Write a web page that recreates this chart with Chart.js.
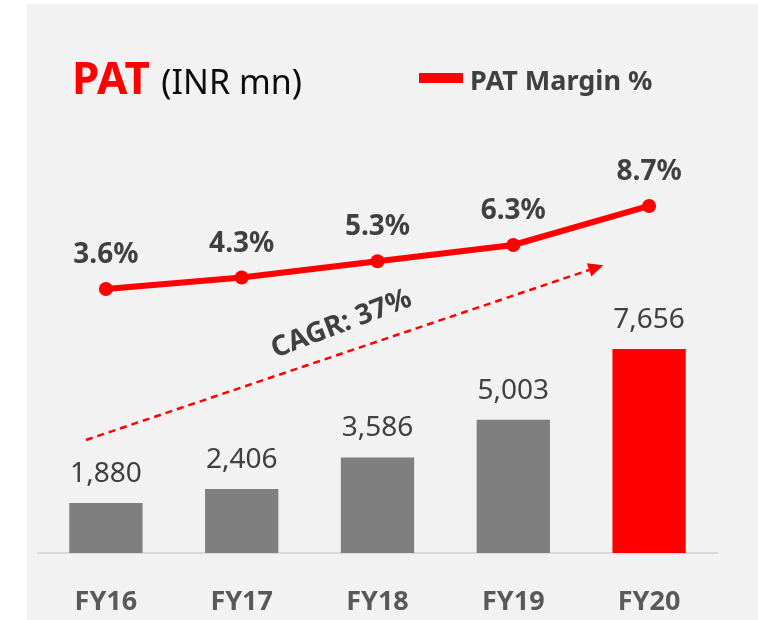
<!DOCTYPE html>
<html>
<head>
<meta charset="utf-8">
<title>PAT (INR mn)</title>
<script src="https://cdn.jsdelivr.net/npm/chart.js@4"></script>
<style>
  body { margin: 0; background: #fff; }
  #panel { position: absolute; left: 27px; top: 4px; width: 731px; height: 616px; background: #f2f2f2; }
  #patChart { position: absolute; left: 0; top: 0; }
  .title { position: absolute; left: 72px; top: 55px; font-family: "Noto Sans", sans-serif; font-size: 44px; line-height: 44px; white-space: nowrap; }
  .title b { color: #ff0000; }
  .title span { font-size: 34px; color: #0d0d0d; }
  .legend-key { position: absolute; left: 419px; top: 73px; width: 44px; height: 10px; background: #ff0000; }
  .legend-text { position: absolute; left: 470px; top: 66px; font-family: "Noto Sans", sans-serif; font-weight: bold; font-size: 27px; line-height: 27px; color: #404040; white-space: nowrap; }
</style>
</head>
<body>
<div id="panel"></div>
<canvas id="patChart" width="758" height="620"></canvas>
<div class="title"><b>PAT</b> <span>(INR mn)</span></div>
<div class="legend-key"></div>
<div class="legend-text">PAT Margin %</div>

<script>
'use strict';

/* ── Data ── */
const categories   = ['FY16', 'FY17', 'FY18', 'FY19', 'FY20'];
const patValues    = [1880, 2406, 3586, 5003, 7656];
const marginValues = [3.6, 4.3, 5.3, 6.3, 8.7];
const cagrLabel    = 'CAGR: 37%';

const RED  = '#FF0000';
const GREY = '#7F7F7F';
const TEXT = '#404040';
const FONT = '"Noto Sans", "Open Sans", sans-serif';

/* ── Value labels + CAGR arrow ── */
const labelPlugin = {
  id: 'patLabels',
  afterDatasetsDraw(chart) {
    const { ctx } = chart;
    const bars   = chart.getDatasetMeta(0).data;
    const points = chart.getDatasetMeta(1).data;

    ctx.save();
    ctx.fillStyle = TEXT;
    ctx.textAlign = 'center';
    ctx.textBaseline = 'alphabetic';

    ctx.font = `28px ${FONT}`;
    bars.forEach((bar, i) => {
      ctx.fillText(patValues[i].toLocaleString('en-US'), bar.x, bar.y - 21);
    });

    ctx.font = `bold 28px ${FONT}`;
    points.forEach((pt, i) => {
      ctx.fillText(marginValues[i].toFixed(1) + '%', pt.x, pt.y - 26);
    });

    // dashed growth arrow, anchored on the bar scales
    const xs = chart.scales.x, ys = chart.scales.y;
    const x0 = xs.getPixelForValue(-0.147), y0 = ys.getPixelForValue(4240);
    const x1 = xs.getPixelForValue(3.663),  y1 = ys.getPixelForValue(10800);
    const ang = Math.atan2(y1 - y0, x1 - x0);
    const head = 15;
    const bx = x1 - Math.cos(ang) * head, by = y1 - Math.sin(ang) * head;

    ctx.strokeStyle = RED;
    ctx.lineWidth = 2.5;
    ctx.setLineDash([7, 5]);
    ctx.beginPath();
    ctx.moveTo(x0, y0);
    ctx.lineTo(bx, by);
    ctx.stroke();
    ctx.setLineDash([]);

    ctx.fillStyle = RED;
    ctx.beginPath();
    ctx.moveTo(x1, y1);
    ctx.lineTo(bx + Math.sin(ang) * 7, by - Math.cos(ang) * 7);
    ctx.lineTo(bx - Math.sin(ang) * 7, by + Math.cos(ang) * 7);
    ctx.closePath();
    ctx.fill();

    // label sits above the middle of the arrow
    const mx = (x0 + x1) / 2 + Math.cos(ang) * 6 + Math.sin(ang) * 28;
    const my = (y0 + y1) / 2 + Math.sin(ang) * 6 - Math.cos(ang) * 28;
    ctx.translate(mx, my);
    ctx.rotate(ang - 0.04);
    ctx.fillStyle = TEXT;
    ctx.font = `bold 28px ${FONT}`;
    ctx.textBaseline = 'middle';
    ctx.fillText(cagrLabel, 0, 0);
    ctx.restore();
  }
};

/* ── Chart ── */
new Chart(document.getElementById('patChart'), {
  data: {
    labels: categories,
    datasets: [
      {
        type: 'bar',
        label: 'PAT',
        data: patValues,
        backgroundColor: c => c.dataIndex === patValues.length - 1 ? RED : GREY,
        barPercentage: 1,
        categoryPercentage: 0.54,
        yAxisID: 'y',
        order: 2,
      },
      {
        type: 'line',
        label: 'PAT Margin %',
        data: marginValues,
        borderColor: RED,
        backgroundColor: RED,
        borderWidth: 6,
        pointRadius: 7,
        pointBorderWidth: 0,
        pointBackgroundColor: RED,
        tension: 0,
        yAxisID: 'y1',
        order: 1,
      }
    ]
  },
  options: {
    responsive: false,
    animation: false,
    layout: { padding: { left: 38, right: 41, top: 40, bottom: 0 } },
    plugins: {
      legend: { display: false },
      tooltip: { enabled: false },
    },
    scales: {
      x: {
        grid: { display: false },
        border: { display: true, color: '#D9D9D9', width: 2 },
        ticks: { color: '#595959', padding: 25, font: { family: FONT, size: 27, weight: 'bold' } },
        afterFit: s => { s.height = 67; },
      },
      y:  { display: false, min: 0, max: 19250 },
      y1: { display: false, min: -12.63, max: 18.9 },
    }
  },
  plugins: [labelPlugin]
});
</script>
</body>
</html>
